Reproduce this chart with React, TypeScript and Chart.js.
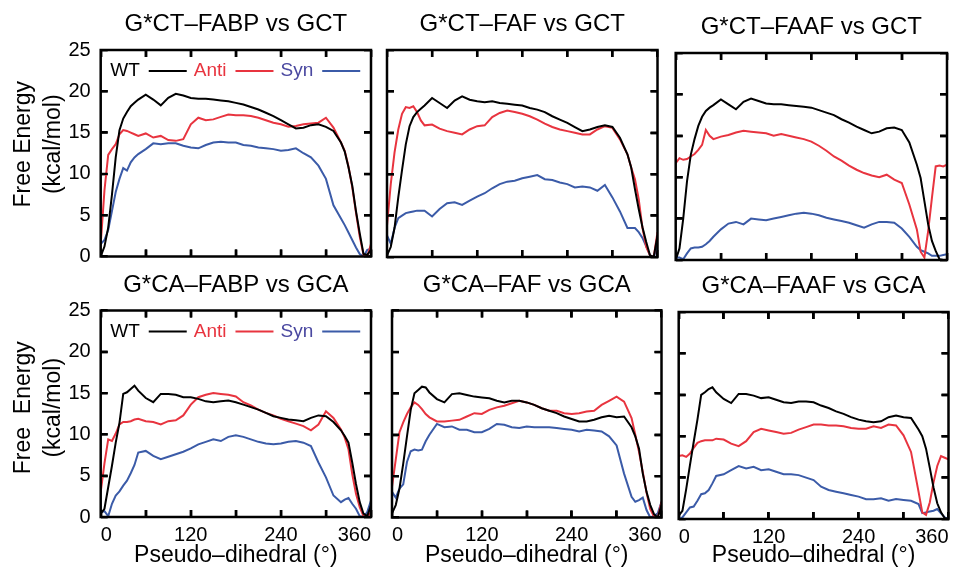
import React, { useEffect, useRef } from "react";
import { Chart, registerables } from "chart.js";

Chart.register(...registerables);

const FONT = '"Liberation Sans", Arial, Helvetica, sans-serif';
Chart.defaults.font.family = FONT;
Chart.defaults.color = "#000";

// ---------- axis settings ----------
const xMin = 0, xMax = 360, xTickStep = 60, xLabelStep = 120;
const yMin = 0, yMax = 25, yTickStep = 5;
const TICK_LEN = 7;

// ---------- data ----------
const angles = [0, 5, 10, 15, 20, 25, 30, 35, 40, 45, 50, 60, 70, 80, 90, 100, 110, 120, 130, 140, 150, 160, 170, 180, 190, 200, 210, 220, 230, 240, 250, 260, 270, 280, 290, 300, 310, 320, 325, 330, 335, 340, 345, 350, 355, 360];

const seriesNames = ["WT", "Anti", "Syn"];
const panelTitles = [
  "G*CT\u2013FABP vs GCT",
  "G*CT\u2013FAF vs GCT",
  "G*CT\u2013FAAF vs GCT",
  "G*CA\u2013FABP vs GCA",
  "G*CA\u2013FAF vs GCA",
  "G*CA\u2013FAAF vs GCA",
];
const xTitle = "Pseudo\u2013dihedral (\u00b0)";
const yTitleTop = ["Free Energy", "(kcal/mol)"];
const yTitleBottom = ["Free\u00a0 Energy", "(kcal/mol)"];

const ctFabpWT = [0, 1.2, 3.5, 7.5, 12, 15.3, 16.7, 17.5, 18.2, 18.6, 19.0, 19.6, 19.0, 18.3, 19.2, 19.7, 19.5, 19.2, 19.1, 19.1, 19.0, 18.9, 18.8, 18.6, 18.4, 18.1, 17.8, 17.4, 17.0, 16.5, 16.0, 15.5, 15.6, 15.9, 16.0, 15.7, 15.2, 13.8, 12.7, 10.8, 8.6, 5.5, 2.8, 0.3, 0.2, 0.8];
const ctFabpAnti = [1.5, 8, 12.3, 13.0, 13.6, 14.8, 15.3, 15.2, 15.0, 14.8, 14.6, 14.9, 14.4, 14.6, 14.1, 14.0, 14.2, 16.0, 16.8, 16.5, 16.6, 16.9, 17.2, 17.1, 17.1, 17.0, 16.8, 16.5, 16.2, 16.0, 15.7, 15.8, 16.0, 16.1, 16.2, 16.8, 15.6, 13.8, 12.8, 10.9, 8.4, 5.3, 2.4, 0.2, 0, 1.5];
const ctFabpSyn = [1.5, 2.0, 3.2, 5.5, 7.8, 9.4, 10.7, 10.4, 11.4, 12.0, 12.4, 13.0, 13.7, 13.6, 13.7, 13.7, 13.4, 13.2, 13.1, 13.5, 13.8, 13.9, 13.8, 13.8, 13.5, 13.4, 13.2, 13.1, 13.0, 12.8, 12.9, 13.1, 12.5, 12.0, 11.0, 9.4, 6.2, 4.6, 3.8, 2.9, 2.0, 1.1, 0.3, 0, 0.8, 0.9];

const ctFafWT = [0.2, 1.2, 3.5, 7.2, 10.5, 13.6, 15.8, 16.9, 17.5, 17.9, 18.3, 19.2, 18.6, 18.0, 18.9, 19.4, 19.0, 18.8, 18.7, 18.8, 18.6, 18.5, 18.4, 18.3, 18.0, 17.8, 17.5, 17.0, 16.6, 16.2, 15.7, 15.2, 15.4, 15.7, 15.9, 15.7, 14.4, 12.4, 10.8, 8.2, 5.8, 3.6, 1.8, 0.2, 0, 2.6];
const ctFafAnti = [3.8, 8.8, 12.6, 15.4, 17.3, 18.1, 18.0, 18.2, 17.5, 16.5, 15.9, 16.0, 15.5, 15.2, 15.0, 14.8, 15.4, 15.8, 15.9, 16.9, 17.4, 17.7, 17.5, 17.3, 17.0, 16.6, 16.1, 15.7, 15.4, 15.2, 15.0, 14.8, 14.8, 15.4, 15.8, 15.6, 14.2, 12.4, 10.8, 9.4, 7.0, 3.5, 1.2, 0.2, 0, 3.0];
const ctFafSyn = [2.6, 1.6, 3.5, 4.7, 5.0, 5.3, 5.4, 5.5, 5.6, 5.6, 5.6, 4.9, 5.8, 6.5, 6.6, 6.3, 6.8, 7.3, 7.7, 8.3, 8.8, 9.1, 9.2, 9.5, 9.7, 9.9, 9.4, 9.3, 9.0, 8.8, 8.4, 8.5, 8.4, 8.0, 8.7, 7.2, 5.5, 3.5, 3.5, 3.5, 3.0, 2.3, 1.3, 0.2, 0, 1.4];

const ctFaafWT = [0, 1.4, 5.0, 9.5, 12.7, 14.6, 16.2, 17.3, 18.0, 18.4, 18.7, 19.4, 18.8, 18.2, 19.1, 19.5, 19.2, 18.9, 18.8, 18.8, 18.7, 18.6, 18.5, 18.4, 18.1, 17.8, 17.5, 17.0, 16.6, 16.1, 15.7, 15.3, 15.5, 15.9, 16.0, 15.7, 14.2, 11.5, 9.9, 7.1, 4.3, 2.3, 1.1, 0.1, 0, 0];
const ctFaafAnti = [11.7, 12.3, 12.1, 12.2, 12.5, 12.8, 13.3, 13.9, 15.7, 15.0, 14.6, 14.9, 15.1, 15.4, 15.6, 15.5, 15.4, 15.3, 15.0, 15.2, 15.0, 14.8, 14.6, 14.3, 13.8, 13.2, 12.5, 12.0, 11.4, 10.9, 10.5, 10.2, 10.0, 10.3, 9.7, 9.3, 6.7, 3.7, 1.0, 0.3, 3.5, 7.5, 11.3, 11.4, 11.3, 11.5];
const ctFaafSyn = [0.3, 0.3, 0.1, 0.8, 1.4, 1.5, 1.5, 1.6, 1.9, 2.3, 2.8, 3.7, 4.4, 4.6, 4.3, 5.0, 4.9, 4.8, 5.0, 5.2, 5.4, 5.6, 5.7, 5.6, 5.4, 5.1, 4.9, 4.7, 4.5, 4.2, 3.9, 4.3, 4.6, 4.6, 4.5, 3.8, 2.8, 1.6, 1.2, 1.0, 0.8, 0.5, 0.5, 0.5, 0.6, 0.7];

const caFabpWT = [0.4, 1.0, 3.6, 6.2, 9.0, 11.4, 14.9, 15.1, 15.5, 15.9, 15.3, 14.4, 13.9, 14.9, 14.9, 14.8, 14.5, 14.5, 14.3, 14.0, 13.9, 14.0, 14.1, 13.9, 13.6, 13.3, 13.0, 12.6, 12.2, 12.0, 11.8, 11.7, 11.6, 12.0, 12.3, 12.2, 11.5, 10.5, 9.8, 9.0, 6.6, 4.0, 1.8, 0.4, 0.1, 1.4];
const caFabpAnti = [3.0, 6.5, 9.4, 9.2, 10.1, 11.2, 11.5, 11.5, 11.6, 11.8, 11.9, 11.6, 11.5, 11.2, 11.6, 11.7, 12.3, 13.6, 14.5, 14.8, 15.0, 14.9, 14.8, 14.6, 13.9, 13.5, 13.0, 12.6, 12.3, 11.9, 11.6, 11.3, 11.0, 10.5, 11.2, 12.8, 12.0, 10.6, 9.6, 8.2, 5.2, 2.8, 1.2, 0.1, 0, 0.6];
const caFabpSyn = [0.6, 0.7, 0.1, 1.6, 2.6, 3.1, 3.8, 4.4, 5.3, 6.3, 7.8, 8.0, 7.4, 7.0, 7.3, 7.6, 7.9, 8.3, 8.8, 9.1, 9.4, 9.2, 9.7, 9.9, 9.7, 9.4, 9.1, 8.9, 8.8, 8.9, 9.1, 9.2, 9.0, 8.6, 6.6, 4.8, 2.6, 1.8, 2.1, 2.3, 1.6, 1.0, 0.1, 0, 0.6, 2.0];

const caFafWT = [0.5, 1.5, 3.5, 6.5, 9.8, 13.0, 15.0, 15.4, 15.8, 15.7, 15.1, 14.3, 13.9, 14.9, 15.0, 14.8, 14.6, 14.5, 14.4, 14.1, 13.9, 14.1, 14.1, 13.9, 13.6, 13.2, 12.9, 12.6, 12.2, 11.9, 11.6, 11.6, 11.8, 12.1, 12.3, 12.1, 12.2, 10.9, 9.8, 8.3, 5.3, 3.1, 1.5, 0.4, 0, 1.5];
const caFafAnti = [3.7, 7.0, 10.3, 11.5, 12.5, 13.3, 13.9, 13.6, 13.1, 12.5, 12.1, 11.6, 11.6, 11.7, 11.8, 12.2, 12.6, 12.5, 13.0, 13.3, 13.5, 13.8, 14.1, 13.9, 13.6, 13.2, 12.9, 12.9, 12.6, 12.5, 12.6, 12.8, 12.9, 13.6, 14.1, 14.6, 14.0, 12.0, 10.0, 7.9, 5.5, 3.0, 1.0, 0.1, 0, 1.9];
const caFafSyn = [3.1, 2.4, 3.5, 4.0, 6.7, 8.0, 8.2, 8.1, 8.2, 9.2, 10.0, 11.3, 10.9, 11.0, 10.6, 10.6, 10.3, 10.3, 10.7, 11.3, 11.2, 10.9, 10.8, 11.0, 10.9, 10.9, 10.9, 10.8, 10.7, 10.6, 10.4, 10.6, 10.5, 10.4, 9.8, 8.7, 5.3, 2.5, 1.9, 2.1, 2.4, 0.9, 0, 0.2, 0.5, 1.9];

const caFaafWT = [0.4, 1.0, 3.6, 6.5, 9.3, 12.0, 15.0, 15.3, 15.7, 15.9, 15.3, 14.5, 14.0, 15.1, 15.1, 14.9, 14.6, 14.7, 14.4, 14.1, 14.0, 14.2, 14.2, 14.1, 13.7, 13.4, 13.0, 12.7, 12.3, 12.0, 11.8, 11.7, 11.8, 12.3, 12.5, 12.3, 12.2, 10.8, 10.0, 8.5, 6.2, 3.8, 1.9, 0.8, 0.1, 0];
const caFaafAnti = [7.6, 7.7, 7.5, 7.9, 8.6, 9.2, 9.4, 9.5, 9.5, 9.5, 9.7, 9.6, 9.1, 8.8, 9.4, 10.5, 10.9, 10.7, 10.5, 10.3, 10.4, 10.8, 11.1, 11.4, 11.4, 11.3, 11.3, 11.2, 11.0, 10.9, 10.9, 11.2, 11.0, 11.4, 11.3, 10.1, 8.1, 3.3, 0.8, 0.5, 2.0, 4.4, 6.4, 7.6, 7.4, 7.2];
const caFaafSyn = [0, 0.2, 0.8, 1.4, 1.5, 2.2, 3.0, 3.1, 3.5, 4.3, 5.2, 5.4, 5.9, 6.4, 6.1, 6.3, 5.9, 6.0, 5.7, 5.4, 5.4, 5.3, 5.0, 4.7, 3.9, 3.5, 3.3, 3.1, 2.9, 2.7, 2.4, 2.4, 2.5, 2.2, 2.4, 2.3, 2.2, 1.8, 0.7, 0.8, 0.9, 1.0, 1.2, 0.7, 0.2, 0];

// ---------- styles / layout ----------
const lineColors = ["#000000", "#e8343f", "#3b5ba8"];
const labelColors = ["#000000", "#e8343f", "#4a48a0"];
const W = 954, H = 571;
const TITLE_SIZE = 24, TITLE_LH = 1.2, TITLE_PB = 11;
const TITLE_H = TITLE_SIZE * TITLE_LH + TITLE_PB;
const YTITLE_LEFT = 8.7;
const XTITLE_BOTTOM = 569.8;

type Area = { l: number; r: number; t: number; b: number };
type PanelCfg = { title: string; series: number[][]; area: Area; yAxis: boolean; xAxis: boolean; legend: boolean; yTitle: string[]; yTitleShift: number };

const panels: PanelCfg[] = [
  { title: panelTitles[0], series: [ctFabpWT, ctFabpAnti, ctFabpSyn], area: { l: 100.7, r: 371, t: 50, b: 256.5 }, yAxis: true, xAxis: false, legend: true, yTitle: yTitleTop, yTitleShift: 9 },
  { title: panelTitles[1], series: [ctFafWT, ctFafAnti, ctFafSyn], area: { l: 387, r: 657.5, t: 50, b: 257 }, yAxis: false, xAxis: false, legend: false, yTitle: [], yTitleShift: 0 },
  { title: panelTitles[2], series: [ctFaafWT, ctFaafAnti, ctFaafSyn], area: { l: 675.7, r: 947, t: 53, b: 260 }, yAxis: false, xAxis: false, legend: false, yTitle: [], yTitleShift: 0 },
  { title: panelTitles[3], series: [caFabpWT, caFabpAnti, caFabpSyn], area: { l: 100.7, r: 371, t: 310.5, b: 517 }, yAxis: true, xAxis: true, legend: true, yTitle: yTitleBottom, yTitleShift: 6 },
  { title: panelTitles[4], series: [caFafWT, caFafAnti, caFafSyn], area: { l: 392, r: 661.5, t: 310.5, b: 517.5 }, yAxis: false, xAxis: true, legend: false, yTitle: [], yTitleShift: 0 },
  { title: panelTitles[5], series: [caFaafWT, caFaafAnti, caFaafSyn], area: { l: 678.7, r: 948.5, t: 312, b: 519 }, yAxis: false, xAxis: true, legend: false, yTitle: [], yTitleShift: 0 },
];

// inward tick marks drawn by the scales themselves (negative tick length, no grid lines in the plot)
const inwardGrid = {
  display: true,
  drawOnChartArea: false,
  drawTicks: true,
  tickLength: -TICK_LEN,
  color: "#000000",
  lineWidth: 2.4,
};

// ---------- plugins ----------
const framePlugin = {
  id: "plotFrame",
  afterDraw(chart: any) {
    const { ctx, chartArea: a, scales } = chart;
    ctx.save();
    ctx.strokeStyle = "#000000";
    ctx.lineWidth = 2.4;
    ctx.beginPath();
    for (let v = xMin + xTickStep; v < xMax; v += xTickStep) {
      const px = scales.x.getPixelForValue(v);
      if (!Number.isFinite(px)) continue;
      ctx.moveTo(px, a.bottom);
      ctx.lineTo(px, a.bottom - TICK_LEN);
      ctx.moveTo(px, a.top);
      ctx.lineTo(px, a.top + TICK_LEN);
    }
    for (let v = yMin + yTickStep; v < yMax; v += yTickStep) {
      const py = scales.y.getPixelForValue(v);
      if (!Number.isFinite(py)) continue;
      ctx.moveTo(a.left, py);
      ctx.lineTo(a.left + TICK_LEN, py);
      ctx.moveTo(a.right, py);
      ctx.lineTo(a.right - TICK_LEN, py);
    }
    ctx.stroke();
    ctx.lineWidth = 2.5;
    ctx.strokeRect(a.left, a.top, a.right - a.left, a.bottom - a.top);
    ctx.restore();
  },
};

const inlineLegendPlugin = {
  id: "inlineLegend",
  afterDraw(chart: any, _args: any, opts: any) {
    if (!opts || !opts.display) return;
    const { ctx, chartArea: a } = chart;
    ctx.save();
    ctx.font = `19px ${FONT}`;
    ctx.textBaseline = "middle";
    ctx.textAlign = "left";
    let x = a.left + 9.5;
    const y = a.top + 21;
    chart.data.datasets.forEach((ds: any) => {
      ctx.fillStyle = ds.labelColor || ds.borderColor;
      ctx.fillText(ds.label, x, y);
      x += ctx.measureText(ds.label).width + 9;
      ctx.strokeStyle = ds.borderColor;
      ctx.lineWidth = 2;
      ctx.beginPath();
      ctx.moveTo(x, y);
      ctx.lineTo(x + 38, y);
      ctx.stroke();
      x += 38 + 7;
    });
    ctx.restore();
  },
};

function Panel({ cfg }: { cfg: PanelCfg }) {
  const ref = useRef<HTMLCanvasElement>(null);
  useEffect(() => {
    const canvas = ref.current;
    if (!canvas) return;
    const { area } = cfg;
    const yW = cfg.yAxis ? area.l - YTITLE_LEFT : 0;
    const xH = cfg.xAxis ? XTITLE_BOTTOM - area.b : 0;
    const chart = new Chart(canvas, {
      type: "line",
      data: {
        datasets: cfg.series.map((vals, i) => ({
          label: seriesNames[i],
          data: angles.map((x, j) => ({ x, y: vals[j] })),
          borderColor: lineColors[i],
          labelColor: labelColors[i],
          borderWidth: 2,
          pointRadius: 0,
          tension: 0,
          fill: false,
        })) as any,
      },
      options: {
        animation: false,
        responsive: false,
        devicePixelRatio: 1,
        events: [],
        layout: {
          padding: {
            left: area.l - yW,
            top: area.t - TITLE_H,
            right: W - area.r,
            bottom: H - area.b - xH,
          },
        },
        plugins: {
          legend: { display: false },
          tooltip: { enabled: false },
          title: {
            display: true,
            text: cfg.title,
            fullSize: false,
            color: "#000",
            font: { size: TITLE_SIZE, lineHeight: TITLE_LH, weight: "normal" as any },
            padding: { top: 0, bottom: TITLE_PB },
          },
          inlineLegend: { display: cfg.legend },
        } as any,
        scales: {
          x: {
            type: "linear",
            position: "bottom",
            min: xMin,
            max: xMax,
            grid: inwardGrid,
            border: { display: false },
            ticks: {
              display: cfg.xAxis,
              stepSize: xTickStep,
              autoSkip: false,
              maxRotation: 0,
              align: "inner",
              padding: 6 + TICK_LEN,
              color: "#000",
              font: { size: 20 },
              callback: (v: any) => (Number(v) % xLabelStep === 0 ? String(v) : ""),
            },
            title: {
              display: cfg.xAxis,
              text: xTitle,
              color: "#000",
              font: { size: 23, lineHeight: 1.2 },
              padding: 0,
            },
            afterFit: (s: any) => {
              s.height = xH;
              s.paddingLeft = 0;
              s.paddingRight = 0;
            },
          },
          xTop: {
            type: "linear",
            position: "top",
            axis: "x",
            min: xMin,
            max: xMax,
            grid: inwardGrid,
            border: { display: false },
            ticks: { display: false, stepSize: xTickStep, autoSkip: false },
            afterFit: (s: any) => {
              s.height = 0;
              s.paddingLeft = 0;
              s.paddingRight = 0;
            },
          },
          y: {
            type: "linear",
            position: "left",
            min: yMin,
            max: yMax,
            grid: inwardGrid,
            border: { display: false },
            ticks: {
              display: cfg.yAxis,
              stepSize: yTickStep,
              padding: 10 + TICK_LEN,
              color: "#000",
              font: { size: 20 },
            },
            title: {
              display: cfg.yAxis,
              text: cfg.yTitle,
              color: "#000",
              font: { size: 23, lineHeight: 1.3 },
              padding: 0,
            },
            afterFit: (s: any) => {
              s.width = yW;
              s.paddingTop = 0;
              s.paddingBottom = 0;
            },
          },
          yRight: {
            type: "linear",
            position: "right",
            axis: "y",
            min: yMin,
            max: yMax,
            grid: inwardGrid,
            border: { display: false },
            ticks: { display: false, stepSize: yTickStep },
            afterFit: (s: any) => {
              s.width = 0;
              s.paddingTop = 0;
              s.paddingBottom = 0;
            },
          },
        } as any,
      },
      plugins: [framePlugin, inlineLegendPlugin],
    });
    // draw the y-axis title slightly above the axis centre, as in the original figure
    try {
      const ysc: any = chart.scales.y;
      if (ysc && cfg.yTitleShift) {
        const orig = ysc.drawTitle.bind(ysc);
        ysc.drawTitle = function () {
          const c = ysc.ctx;
          c.save();
          c.translate(0, -cfg.yTitleShift);
          orig();
          c.restore();
        };
        chart.draw();
      }
    } catch (e) {
      /* keep default title position */
    }
    return () => chart.destroy();
  }, [cfg]);
  return (
    <canvas
      ref={ref}
      width={W}
      height={H}
      style={{ position: "absolute", left: 0, top: 0, width: W, height: H, pointerEvents: "none" }}
    />
  );
}

export default function App() {
  return (
    <div style={{ position: "absolute", left: 0, top: 0, width: W, height: H, background: "#fff" }}>
      {panels.map((p, i) => (
        <Panel key={i} cfg={p} />
      ))}
    </div>
  );
}
